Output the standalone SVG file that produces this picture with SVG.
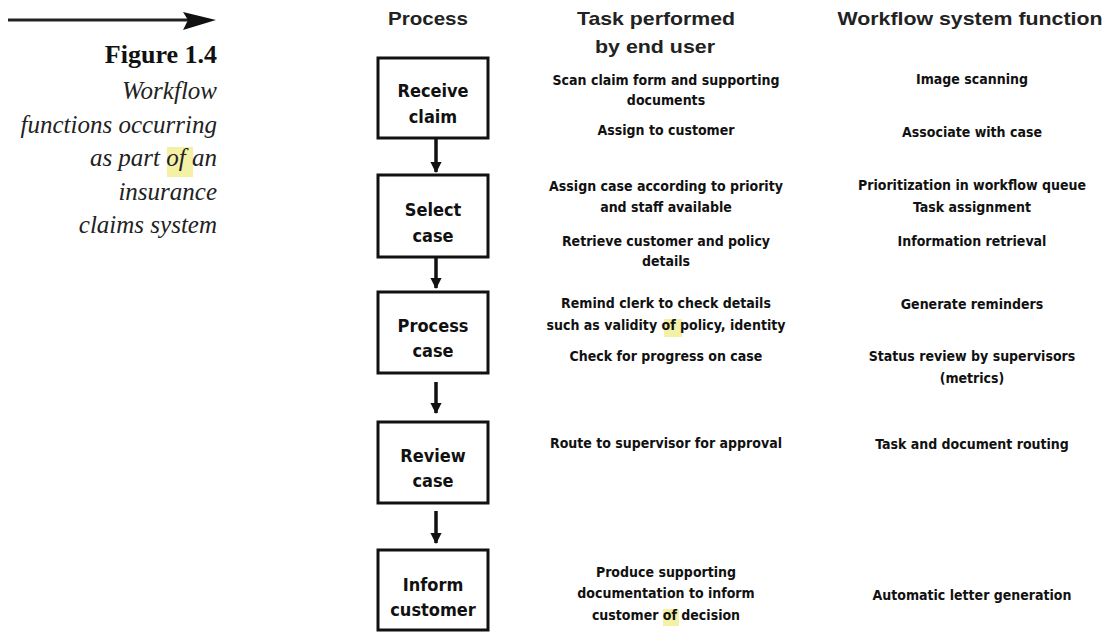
<svg xmlns="http://www.w3.org/2000/svg" width="1109" height="633" viewBox="0 0 1109 633">
<style>
.cap{font-family:"Liberation Serif",serif;font-style:italic;font-size:25px;fill:#222;text-anchor:end}
.fig{font-family:"Liberation Serif",serif;font-weight:bold;font-size:26px;fill:#111;text-anchor:end}
.hdr{font-family:"Liberation Sans",Arial,sans-serif;font-weight:bold;font-size:19px;fill:#222;text-anchor:middle}
.box{fill:#fff;stroke:#111;stroke-width:3}
.bt{font-family:"Liberation Sans Narrow","DejaVu Sans Condensed",sans-serif;font-weight:bold;font-stretch:condensed;font-size:18px;fill:#111;text-anchor:middle}
.t{font-family:"Liberation Sans Narrow","DejaVu Sans Condensed",sans-serif;font-weight:bold;font-stretch:condensed;font-size:14px;fill:#111;text-anchor:middle}
.hl{fill:#f4f1a6}
.conn line{stroke:#111;stroke-width:3.5}
</style>
<defs>
<marker id="ah" viewBox="0 0 10 10" refX="9" refY="5" markerWidth="4" markerHeight="3.2" orient="auto" markerUnits="strokeWidth">
<path d="M0,0 L10,5 L0,10 z" fill="#111"/>
</marker>
</defs>

<g id="caption">
<line x1="8" y1="20" x2="190" y2="20" stroke="#222" stroke-width="3"/>
<path d="M183,12 L216,20 L183,30 L188,20 z" fill="#111"/>
<rect class="hl" x="167" y="147" width="26" height="30"/>
<text class="fig" x="217" y="63">Figure 1.4</text>
<text class="cap" x="217" y="99">Workflow</text>
<text class="cap" x="217" y="133">functions occurring</text>
<text class="cap" x="217" y="166">as part of an</text>
<text class="cap" x="217" y="200">insurance</text>
<text class="cap" x="217" y="233">claims system</text>
</g>

<g id="headers">
<text class="hdr" x="428" y="25" textLength="80" lengthAdjust="spacingAndGlyphs">Process</text>
<text class="hdr" x="656" y="25" textLength="158" lengthAdjust="spacingAndGlyphs">Task performed</text>
<text class="hdr" x="655" y="53" textLength="120" lengthAdjust="spacingAndGlyphs">by end user</text>
<text class="hdr" x="970" y="25" textLength="265" lengthAdjust="spacingAndGlyphs">Workflow system function</text>
</g>

<g id="node-receive">
<rect class="box" x="378" y="58" width="110" height="80"/>
<text class="bt" x="433" y="97">Receive</text>
<text class="bt" x="433" y="123">claim</text>
</g>
<g id="node-select">
<rect class="box" x="378" y="175" width="110" height="82"/>
<text class="bt" x="433" y="216">Select</text>
<text class="bt" x="433" y="242">case</text>
</g>
<g id="node-process">
<rect class="box" x="378" y="292" width="110" height="81"/>
<text class="bt" x="433" y="332">Process</text>
<text class="bt" x="433" y="357">case</text>
</g>
<g id="node-review">
<rect class="box" x="378" y="422" width="110" height="81"/>
<text class="bt" x="433" y="462">Review</text>
<text class="bt" x="433" y="487">case</text>
</g>
<g id="node-inform">
<rect class="box" x="378" y="550" width="110" height="80"/>
<text class="bt" x="433" y="591">Inform</text>
<text class="bt" x="433" y="616">customer</text>
</g>

<g id="connectors" class="conn">
<line x1="436" y1="139" x2="436" y2="172" marker-end="url(#ah)"/>
<line x1="436" y1="258" x2="436" y2="288" marker-end="url(#ah)"/>
<line x1="436" y1="382" x2="436" y2="413" marker-end="url(#ah)"/>
<line x1="436" y1="511" x2="436" y2="543" marker-end="url(#ah)"/>
</g>

<g id="tasks">
<rect class="hl" x="664" y="319" width="18" height="18"/>
<rect class="hl" x="663" y="609" width="16" height="17"/>
<text class="t" x="666" y="85">Scan claim form and supporting</text>
<text class="t" x="666" y="105">documents</text>
<text class="t" x="666" y="135">Assign to customer</text>
<text class="t" x="666" y="191">Assign case according to priority</text>
<text class="t" x="666" y="212">and staff available</text>
<text class="t" x="666" y="246">Retrieve customer and policy</text>
<text class="t" x="666" y="266">details</text>
<text class="t" x="666" y="308">Remind clerk to check details</text>
<text class="t" x="666" y="330">such as validity of policy, identity</text>
<text class="t" x="666" y="361">Check for progress on case</text>
<text class="t" x="666" y="448">Route to supervisor for approval</text>
<text class="t" x="666" y="577">Produce supporting</text>
<text class="t" x="666" y="598">documentation to inform</text>
<text class="t" x="666" y="620">customer of decision</text>
</g>

<g id="functions">
<text class="t" x="972" y="84">Image scanning</text>
<text class="t" x="972" y="137">Associate with case</text>
<text class="t" x="972" y="190">Prioritization in workflow queue</text>
<text class="t" x="972" y="212">Task assignment</text>
<text class="t" x="972" y="246">Information retrieval</text>
<text class="t" x="972" y="309">Generate reminders</text>
<text class="t" x="972" y="361">Status review by supervisors</text>
<text class="t" x="972" y="383">(metrics)</text>
<text class="t" x="972" y="449">Task and document routing</text>
<text class="t" x="972" y="600">Automatic letter generation</text>
</g>
</svg>
